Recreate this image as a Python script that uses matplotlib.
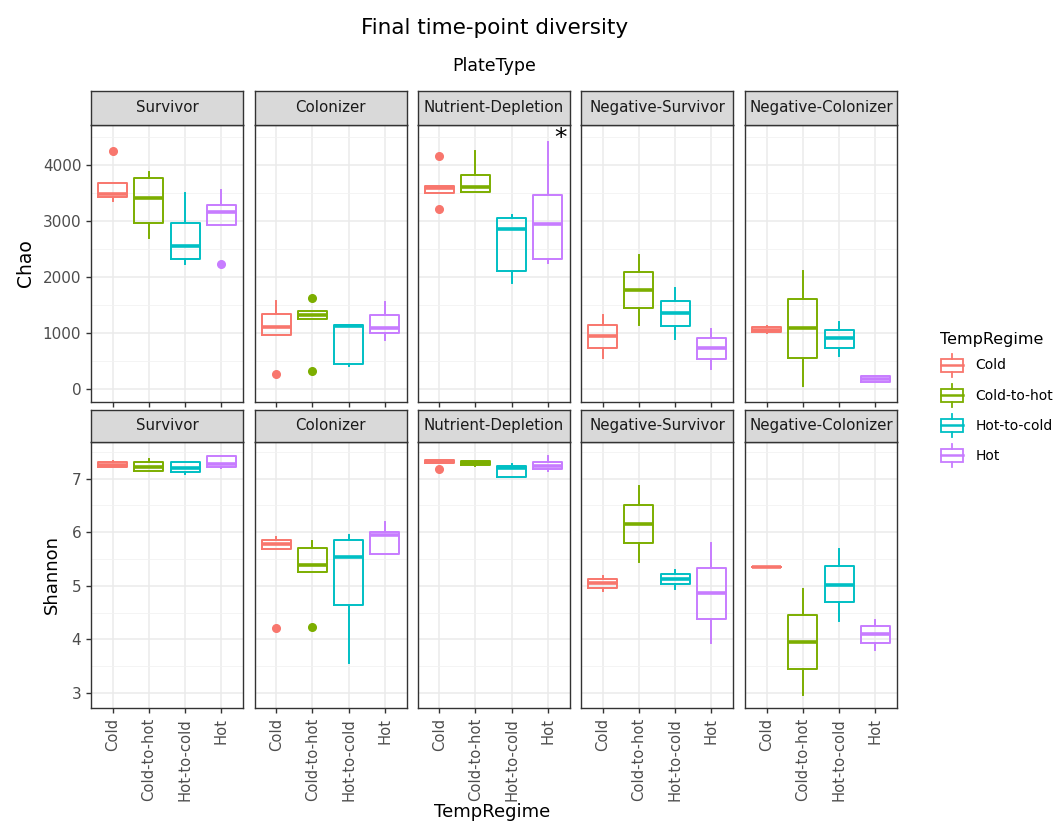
import matplotlib
matplotlib.use('Agg')
import matplotlib.pyplot as plt
from matplotlib.legend_handler import HandlerBase
from matplotlib.lines import Line2D
from matplotlib.patches import Rectangle
from matplotlib.ticker import MultipleLocator

plates = ['Survivor', 'Colonizer', 'Nutrient-Depletion', 'Negative-Survivor', 'Negative-Colonizer']
regimes = ['Cold', 'Cold-to-hot', 'Hot-to-cold', 'Hot']
colors = ['#F8766D', '#7CAE00', '#00BFC4', '#C77CFF']

# Chao boxplot stats, one row per plate type, one value per regime
chao_lo = [[3363, 2691, 2232, 2923], [970, 1256, 411, 875], [3494, 3513, 1888, 2256],
           [566, 1155, 905, 363], [1000, 52, 591, 125]]
chao_q1 = [[3424, 2959, 2316, 2923], [970, 1256, 459, 1006], [3494, 3513, 2113, 2322],
           [745, 1452, 1125, 541], [1014, 561, 736, 139]]
chao_med = [[3483, 3405, 2560, 3167], [1107, 1327, 1131, 1095], [3584, 3604, 2858, 2941],
            [947, 1774, 1363, 732], [1057, 1093, 911, 189]]
chao_q3 = [[3685, 3774, 2959, 3280], [1340, 1393, 1155, 1322], [3626, 3827, 3054, 3465],
           [1138, 2084, 1577, 916], [1109, 1604, 1057, 232]]
chao_hi = [[3685, 3881, 3494, 3554], [1577, 1393, 1155, 1560], [3626, 4238, 3108, 4399],
           [1322, 2393, 1798, 1084], [1120, 2114, 1204, 245]]
chao_out = [[[4250], [], [], [2232]], [[268], [1620, 327], [], []], [[4149, 3220], [], [], []],
            [[], [], [], []], [[], [], [], []]]

# Shannon boxplot stats
sh_lo = [[7.213, 7.14, 7.088, 7.19], [5.689, 5.259, 3.556, 5.589], [7.287, 7.237, 7.026, 7.149],
         [4.91, 5.44, 4.942, 3.929], [5.353, 2.955, 4.349, 3.80]]
sh_q1 = [[7.213, 7.149, 7.131, 7.224], [5.689, 5.259, 4.638, 5.589], [7.287, 7.256, 7.026, 7.18],
         [4.966, 5.795, 5.03, 4.388], [5.353, 3.45, 4.692, 3.929]]
sh_med = [[7.25, 7.224, 7.205, 7.274], [5.782, 5.39, 5.534, 5.95], [7.318, 7.293, 7.205, 7.23],
          [5.06, 6.155, 5.123, 4.873], [5.353, 3.953, 5.019, 4.104]]
sh_q3 = [[7.306, 7.31, 7.306, 7.43], [5.857, 5.713, 5.857, 6.0], [7.349, 7.33, 7.243, 7.31],
         [5.128, 6.51, 5.222, 5.334], [5.353, 4.463, 5.362, 4.25]]
sh_hi = [[7.33, 7.36, 7.306, 7.43], [5.918, 5.832, 5.95, 6.198], [7.349, 7.33, 7.274, 7.42],
         [5.19, 6.864, 5.296, 5.795], [5.353, 4.94, 5.68, 4.371]]
sh_out = [[[], [], [], []], [[4.22], [4.233], [], []], [[7.175], [], [], []],
          [[], [], [], []], [[], [], [], []]]

W, H = 1058, 824
fig = plt.figure(figsize=(W / 100, H / 100), dpi=100)


def rect(x0, y0, x1, y1):
    # pixel box (top-left origin) -> figure fraction
    return [x0 / W, 1 - y1 / H, (x1 - x0) / W, (y1 - y0) / H]


def draw_panel(ax, lo, q1, med, q3, hi, out):
    for i in range(4):
        c = colors[i]
        st = [dict(whislo=lo[i], q1=q1[i], med=med[i], q3=q3[i], whishi=hi[i], fliers=out[i])]
        ax.bxp(st, positions=[i + 1], widths=0.8, showcaps=False, manage_ticks=False,
               boxprops=dict(color=c, lw=1.4),
               medianprops=dict(color=c, lw=2.6, solid_capstyle='butt'),
               whiskerprops=dict(color=c, lw=1.4),
               flierprops=dict(marker='o', markerfacecolor=c, markeredgecolor=c, markersize=5.5))


col_left = [91, 254.5, 417.5, 581, 745]
col_w = 152
rows = [
    dict(strip=(90.5, 124.7), panel=(124.7, 401.7), ylim=(-220, 4715), major=1000, minor=500,
         stats=(chao_lo, chao_q1, chao_med, chao_q3, chao_hi, chao_out)),
    dict(strip=(410, 441.7), panel=(441.7, 708.3), ylim=(2.715, 7.69), major=1, minor=0.5,
         stats=(sh_lo, sh_q1, sh_med, sh_q3, sh_hi, sh_out)),
]

axes = {}
for r, row in enumerate(rows):
    for c, plate in enumerate(plates):
        x0 = col_left[c]
        x1 = x0 + col_w
        ax = fig.add_axes(rect(x0, row['panel'][0], x1, row['panel'][1]))
        ax.set_axisbelow(True)
        stats = row['stats']
        draw_panel(ax, *[s[c] for s in stats])
        ax.set_xlim(0.4, 4.6)
        ax.set_ylim(*row['ylim'])
        ax.set_xticks(range(1, 5))
        ax.yaxis.set_major_locator(MultipleLocator(row['major']))
        ax.yaxis.set_minor_locator(MultipleLocator(row['minor']))
        ax.grid(which='major', color='#EBEBEB', lw=1.1)
        ax.grid(which='minor', axis='y', color='#F2F2F2', lw=0.6)
        for sp in ax.spines.values():
            sp.set_color('#333333')
            sp.set_linewidth(1.0)
        ax.tick_params(which='major', length=3.5, width=1.0, color='#333333',
                       labelsize=11, labelcolor='#4D4D4D')
        ax.tick_params(which='minor', left=False)
        if r == 1:
            ax.set_xticklabels(regimes, rotation=90, fontsize=10.6)
        else:
            ax.tick_params(axis='x', labelbottom=False)
        if c > 0:
            ax.tick_params(axis='y', left=False, labelleft=False)
        axes[(r, c)] = ax

        # facet strip
        sax = fig.add_axes(rect(x0, row['strip'][0], x1, row['strip'][1]))
        sax.set_facecolor('#D9D9D9')
        sax.set_xticks([])
        sax.set_yticks([])
        for sp in sax.spines.values():
            sp.set_color('#333333')
            sp.set_linewidth(1.0)
        sax.text(0.5, 0.5, plate, ha='center', va='center', fontsize=10.8, color='#1A1A1A',
                 transform=sax.transAxes)

# significance mark
axes[(0, 2)].text(4.36, 4480, '*', ha='center', va='center', fontsize=18, color='black')

fig.text(495 / W, 1 - 28 / H, 'Final time-point diversity', ha='center', va='center', fontsize=15.5)
fig.text(494 / W, 1 - 66 / H, 'PlateType', ha='center', va='center', fontsize=12.5)
fig.text(492 / W, 1 - 812 / H, 'TempRegime', ha='center', va='center', fontsize=13)
fig.text(25 / W, 1 - 263 / H, 'Chao', ha='center', va='center', rotation=90, fontsize=13.5)
fig.text(52 / W, 1 - 575 / H, 'Shannon', ha='center', va='center', rotation=90, fontsize=13)


class BoxKey(HandlerBase):
    def create_artists(self, legend, orig_handle, xdescent, ydescent, width, height, fontsize, trans):
        c = orig_handle.get_color()
        x0, y0 = -xdescent, -ydescent
        xm = x0 + width / 2
        arts = [
            Rectangle((x0 + 0.05 * width, y0 + 0.22 * height), 0.9 * width, 0.56 * height,
                      fill=False, edgecolor=c, lw=1.3, transform=trans),
            Line2D([x0 + 0.05 * width, x0 + 0.95 * width], [y0 + 0.5 * height] * 2, color=c, lw=1.8, transform=trans),
            Line2D([xm, xm], [y0, y0 + 0.22 * height], color=c, lw=1.3, transform=trans),
            Line2D([xm, xm], [y0 + 0.78 * height, y0 + height], color=c, lw=1.3, transform=trans),
        ]
        return arts


handles = [Line2D([], [], color=col) for col in colors]
fig.legend(handles, regimes, title='TempRegime', loc='upper left',
           bbox_to_anchor=(930 / W, 1 - 322 / H), frameon=False, fontsize=10,
           title_fontsize=11.5, alignment='left', handler_map={Line2D: BoxKey()},
           handlelength=1.75, handleheight=2.2, labelspacing=0.49, handletextpad=0.8,
           borderpad=0.2)

fig.savefig('out.png', dpi=100)
